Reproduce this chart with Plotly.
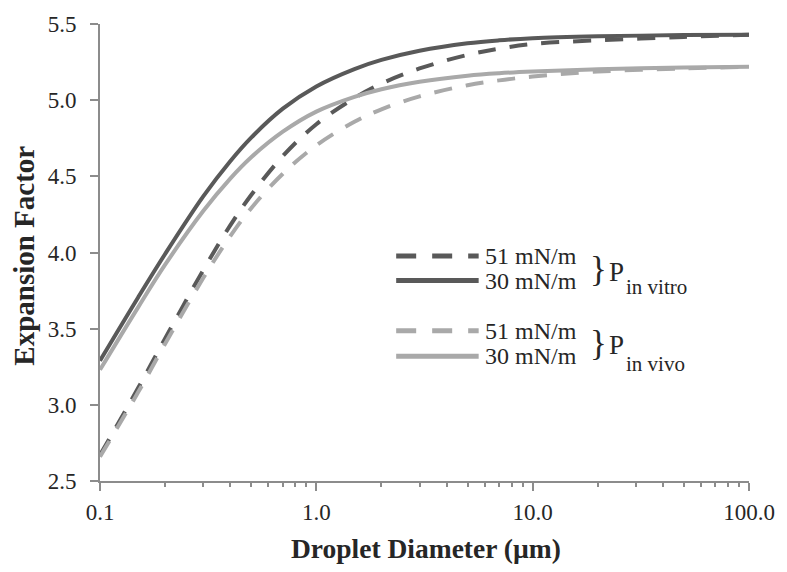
import plotly.graph_objects as go

# Droplet diameter (µm)
diameter = [0.1, 0.15, 0.2, 0.3, 0.4, 0.5, 0.7, 1.0, 1.5, 2, 3, 5, 7, 10, 20, 50, 100]

# Expansion factor, P in vitro
vitro_51 = [2.67, 3.11, 3.435, 3.884, 4.178, 4.377, 4.633, 4.842, 5.014, 5.109, 5.208, 5.297, 5.338, 5.369, 5.393, 5.415, 5.43]
vitro_30 = [3.29, 3.705, 3.99, 4.368, 4.599, 4.754, 4.944, 5.09, 5.204, 5.264, 5.324, 5.373, 5.393, 5.407, 5.419, 5.427, 5.43]
# Expansion factor, P in vivo
vivo_51 = [2.66, 3.082, 3.401, 3.832, 4.107, 4.291, 4.517, 4.703, 4.858, 4.94, 5.025, 5.098, 5.130, 5.155, 5.188, 5.208, 5.22]
vivo_30 = [3.23, 3.64, 3.92, 4.272, 4.485, 4.625, 4.793, 4.925, 5.022, 5.072, 5.121, 5.161, 5.177, 5.188, 5.203, 5.214, 5.22]

x_tickvals = [0.1, 1, 10, 100]
x_ticktext = ["0.1", "1.0", "10.0", "100.0"]
x_minor = [m * d for d in (0.1, 1, 10) for m in range(2, 10)]

DARK = "#595959"
LIGHT = "#a9a9a9"
AXIS = "#8c8c8c"
TEXT = "#262626"
FONT = "Liberation Serif, Times New Roman, serif"
DASH = "18px,14px"

fig = go.Figure()
series = [
    (vitro_51, DARK, DASH),
    (vitro_30, DARK, "solid"),
    (vivo_51, LIGHT, DASH),
    (vivo_30, LIGHT, "solid"),
]
for ys, col, dash in series:
    fig.add_trace(go.Scatter(x=diameter, y=ys, mode="lines",
                             line=dict(color=col, width=4, dash=dash, shape="spline"),
                             showlegend=False, hoverinfo="skip"))

fig.update_layout(
    width=787, height=572,
    margin=dict(l=100, r=34, t=16, b=91),
    paper_bgcolor="white", plot_bgcolor="white",
    font=dict(family=FONT, color=TEXT, size=23),
    showlegend=False,
)
fig.update_xaxes(
    type="log", range=[-1, 2],
    tickvals=x_tickvals, ticktext=x_ticktext,
    ticks="outside", ticklen=8, tickwidth=2, tickcolor=AXIS,
    minor=dict(tickvals=x_minor, ticks="outside", ticklen=4, tickwidth=2, tickcolor=AXIS),
    showline=True, linecolor=AXIS, linewidth=2,
    showgrid=False, zeroline=False,
    tickfont=dict(family=FONT, size=23, color=TEXT),
    ticklabelstandoff=1,
)
fig.update_yaxes(
    range=[2.5, 5.5], dtick=0.5, tick0=2.5, tickformat=".1f",
    ticks="outside", ticklen=8, tickwidth=2, tickcolor=AXIS,
    showline=True, linecolor=AXIS, linewidth=2,
    showgrid=False, zeroline=False,
    tickfont=dict(family=FONT, size=23, color=TEXT),
    ticklabelstandoff=9,
)

# Axis titles
fig.add_annotation(text="<b>Droplet Diameter (µm)</b>", xref="paper", yref="paper",
                   x=0.503, y=-0.148, showarrow=False, xanchor="center", yanchor="middle",
                   font=dict(family=FONT, size=27.5, color=TEXT))
fig.add_annotation(text="<b>Expansion Factor</b>", xref="paper", yref="paper",
                   x=-0.1164, y=0.494, showarrow=False, textangle=-90,
                   xanchor="center", yanchor="middle",
                   font=dict(family=FONT, size=29, color=TEXT))

# Custom legend
def px_x(px):
    return (px - 100) / 653.0

def px_y(py):
    return (481 - py) / 465.0

legend_rows = [
    (252, DARK, "dash", "51 mN/m"),
    (277, DARK, "solid", "30 mN/m"),
    (328, LIGHT, "dash", "51 mN/m"),
    (354, LIGHT, "solid", "30 mN/m"),
]
for py, col, dash, label in legend_rows:
    fig.add_shape(type="line", xref="paper", yref="paper",
                  x0=px_x(398), x1=px_x(481), y0=px_y(py), y1=px_y(py),
                  line=dict(color=col, width=5, dash="20px,16px" if dash == "dash" else "solid"))
    fig.add_annotation(text=label, xref="paper", yref="paper",
                       x=px_x(485), y=px_y(py), xanchor="left", yanchor="middle",
                       height=22, valign="middle",
                       showarrow=False, font=dict(family=FONT, size=24, color=TEXT))

for brace_y, sub_y, sub in [(266, 284, "in vitro"), (341, 362, "in vivo")]:
    fig.add_annotation(text="}", xref="paper", yref="paper",
                       x=px_x(602), y=px_y(brace_y), xanchor="center", yanchor="middle",
                       showarrow=False, font=dict(family=FONT, size=35, color=TEXT))
    fig.add_annotation(text="P", xref="paper", yref="paper",
                       x=px_x(610), y=px_y(brace_y + 2), xanchor="left", yanchor="middle",
                       showarrow=False, font=dict(family=FONT, size=27, color=TEXT))
    fig.add_annotation(text=sub, xref="paper", yref="paper",
                       x=px_x(627), y=px_y(sub_y), xanchor="left", yanchor="middle",
                       showarrow=False, font=dict(family=FONT, size=21, color=TEXT))

fig.write_html("out.html")
